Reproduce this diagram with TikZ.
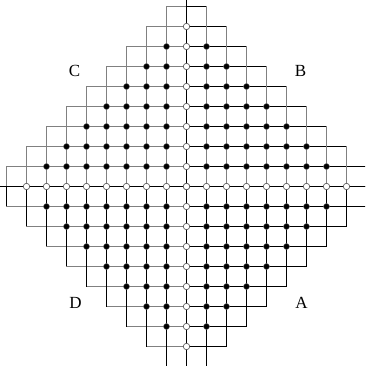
\documentclass[tikz,border=0pt]{standalone}
\usepackage{fontspec}
\setmainfont{Liberation Serif}
\begin{document}
\begin{tikzpicture}[x=20pt,y=20pt,
  grayline/.style={draw=black!50, line width=0.9pt},
  blackline/.style={draw=black, line width=0.9pt},
  axisline/.style={draw=black, line width=1.3pt},
  bdot/.style={circle, fill=black, draw=black!60, line width=0.4pt, inner sep=0pt, minimum size=6pt},
  wdot/.style={circle, fill=white, draw=black!70, line width=0.6pt, inner sep=0pt, minimum size=6.4pt},
  lab/.style={font=\fontsize{17}{17}\selectfont, inner sep=0pt}]
\useasboundingbox (-9.325,-8.975) rectangle (8.925,9.325);
\begin{scope}
\clip (-9.325,-8.975) rectangle (8.925,9.325);
% horizontal lines: gray on the left, black on the right
\foreach \j in {-9,...,9} {
  \pgfmathtruncatemacro{\L}{10-abs(\j)}
  \draw[grayline] (-\L,\j) -- (0,\j);
  \draw[blackline] (0,\j) -- (\L,\j);
}
% vertical lines: gray on top, black below
\foreach \i in {-9,...,9} {
  \pgfmathtruncatemacro{\L}{10-abs(\i)}
  \draw[grayline] (\i,0) -- (\i,\L);
  \draw[blackline] (\i,-\L) -- (\i,0);
}
% axes
\draw[axisline] (-10,0) -- (10,0);
\draw[axisline] (0,-10) -- (0,10);
\end{scope}
% vertices: black dots off the axes
\foreach \i in {1,...,7} {
  \pgfmathtruncatemacro{\M}{8-\i}
  \foreach \j in {1,...,\M} {
    \node[bdot] (p\i n\j) at (\i,\j) {};
    \node[bdot] (q\i n\j) at (-\i,\j) {};
    \node[bdot] (r\i n\j) at (-\i,-\j) {};
    \node[bdot] (s\i n\j) at (\i,-\j) {};
  }
}
% vertices: white circles on the axes
\foreach \k in {-8,...,8} {
  \node[wdot] (h\k) at (\k,0) {};
  \node[wdot] (u\k) at (0,\k) {};
}
% labels
\node[lab] (C) at (-5.6,5.78) {C};
\node[lab] (B) at (5.7,5.78) {B};
\node[lab] (D) at (-5.55,-5.8) {D};
\node[lab] (A) at (5.75,-5.8) {A};
\end{tikzpicture}
\end{document}
